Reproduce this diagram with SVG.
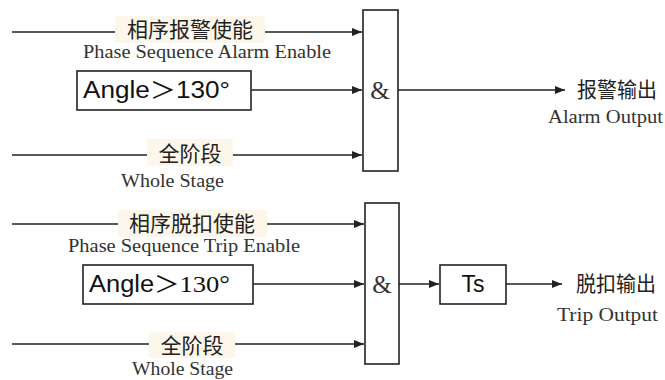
<svg xmlns="http://www.w3.org/2000/svg" width="665" height="380" viewBox="0 0 665 380">
<style>
.ln{stroke:#222;stroke-width:1.6;fill:none}
.box{stroke:#222;stroke-width:1.6;fill:#fff}
.bg{fill:#fcf7ea}
.cn{font-family:"Noto Sans CJK SC",sans-serif;font-size:21px;fill:#222}
.en{font-family:"Liberation Serif",serif;font-size:19px;fill:#333}
.ang{font-family:"Liberation Sans",Arial,sans-serif;font-size:23px;fill:#111}
.gt{font-family:"Noto Sans CJK SC",sans-serif}
.amp{font-family:"Liberation Serif",serif;font-size:25px;fill:#333}
</style>
<defs>
<marker id="ar" viewBox="0 0 10 8" refX="10" refY="4" markerWidth="10" markerHeight="8" markerUnits="userSpaceOnUse" orient="auto">
<path d="M0,0 L10,4 L0,8 Z" fill="#222"/>
</marker>
</defs>
<g id="connectors">
<line class="ln" x1="12" y1="32" x2="362" y2="32" marker-end="url(#ar)"/>
<line class="ln" x1="251" y1="90" x2="362" y2="90" marker-end="url(#ar)"/>
<line class="ln" x1="12" y1="155" x2="362" y2="155" marker-end="url(#ar)"/>
<line class="ln" x1="398" y1="90" x2="565" y2="90" marker-end="url(#ar)"/>
<line class="ln" x1="12" y1="224" x2="364" y2="224" marker-end="url(#ar)"/>
<line class="ln" x1="253" y1="284" x2="364" y2="284" marker-end="url(#ar)"/>
<line class="ln" x1="12" y1="344" x2="364" y2="344" marker-end="url(#ar)"/>
<line class="ln" x1="399" y1="284" x2="439" y2="284" marker-end="url(#ar)"/>
<line class="ln" x1="506" y1="284" x2="562" y2="284" marker-end="url(#ar)"/>
</g>
<g id="in-alarm-enable">
<rect class="bg" x="115" y="16" width="150" height="27"/>
<text class="cn" x="190" y="37" text-anchor="middle">相序报警使能</text>
<text class="en" x="83" y="58" textLength="248" lengthAdjust="spacingAndGlyphs">Phase Sequence Alarm Enable</text>
</g>
<g id="in-angle-1">
<rect class="box" x="77" y="71" width="174" height="39"/>
<text class="ang" x="83" y="98" textLength="147" lengthAdjust="spacingAndGlyphs">Angle<tspan class="gt">＞</tspan>130°</text>
</g>
<g id="in-whole-1">
<rect class="bg" x="147" y="139" width="86" height="27"/>
<text class="cn" x="190" y="161" text-anchor="middle">全阶段</text>
<text class="en" x="121" y="187" textLength="103" lengthAdjust="spacingAndGlyphs">Whole Stage</text>
</g>
<g id="and-1">
<rect class="box" x="363" y="10" width="35" height="161"/>
<text class="amp" x="380" y="99" text-anchor="middle">&amp;</text>
</g>
<g id="out-alarm">
<text class="cn" x="577" y="97" font-size="20" textLength="80" lengthAdjust="spacingAndGlyphs">报警输出</text>
<text class="en" x="548" y="123" textLength="115" lengthAdjust="spacingAndGlyphs">Alarm Output</text>
</g>
<g id="in-trip-enable">
<rect class="bg" x="118" y="210" width="149" height="27"/>
<text class="cn" x="192" y="231" text-anchor="middle">相序脱扣使能</text>
<text class="en" x="68" y="252" textLength="232" lengthAdjust="spacingAndGlyphs">Phase Sequence Trip Enable</text>
</g>
<g id="in-angle-2">
<rect class="box" x="83" y="265" width="170" height="39"/>
<text class="ang" x="89" y="292" textLength="141" lengthAdjust="spacingAndGlyphs">Angle<tspan class="gt">＞</tspan><tspan font-family="Liberation Serif,serif" font-size="24">130°</tspan></text>
</g>
<g id="in-whole-2">
<rect class="bg" x="149" y="332" width="86" height="26"/>
<text class="cn" x="192" y="353" text-anchor="middle">全阶段</text>
<text class="en" x="132" y="375" textLength="101" lengthAdjust="spacingAndGlyphs">Whole Stage</text>
</g>
<g id="and-2">
<rect class="box" x="365" y="203" width="34" height="161"/>
<text class="amp" x="382" y="293" text-anchor="middle">&amp;</text>
</g>
<g id="timer">
<rect class="box" x="440" y="265" width="66" height="39"/>
<text class="ang" x="473" y="292" text-anchor="middle" font-size="22">Ts</text>
</g>
<g id="out-trip">
<text class="cn" x="576" y="291" font-size="20" textLength="80" lengthAdjust="spacingAndGlyphs">脱扣输出</text>
<text class="en" x="557" y="321" textLength="101" lengthAdjust="spacingAndGlyphs">Trip Output</text>
</g>
</svg>
